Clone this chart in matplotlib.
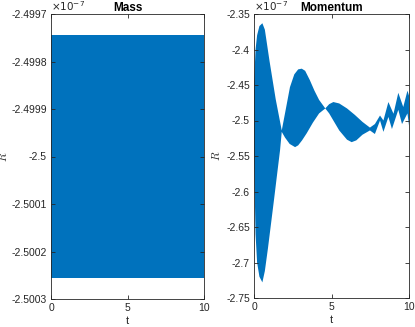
import matplotlib
matplotlib.use('Agg')

import matplotlib.pyplot as plt
from matplotlib.ticker import FuncFormatter

plt.rcParams['font.family'] = ['Liberation Sans', 'DejaVu Sans']
plt.rcParams['mathtext.fontset'] = 'cm'

# values in units of 1e-7
mass_t = [0, 10]
mass_hi = [-2.499745, -2.499745]
mass_lo = [-2.500255, -2.500255]

mom_t_hi = [0, 0.1, 0.2, 0.35, 0.54, 0.7, 1.0, 1.4, 1.79, 2.0, 2.32, 2.6, 2.85,
            3.08, 3.3, 3.6, 3.9, 4.2, 4.6, 4.85, 5.12, 5.5, 6.0, 6.5, 7.0, 7.48,
            7.8, 8.13, 8.35, 8.67, 9.0, 9.31, 9.63, 9.9, 10]
mom_hi = [-2.45, -2.40, -2.38, -2.367, -2.363, -2.372, -2.416, -2.47, -2.514,
          -2.49, -2.453, -2.435, -2.428, -2.427, -2.43, -2.443, -2.458, -2.471,
          -2.483, -2.477, -2.474, -2.476, -2.483, -2.492, -2.502, -2.510,
          -2.505, -2.493, -2.500, -2.474, -2.4905, -2.461, -2.481, -2.458, -2.465]

mom_t_lo = [0, 0.1, 0.2, 0.35, 0.54, 0.7, 0.9, 1.1, 1.3, 1.5, 1.68, 1.79, 2.0,
            2.3, 2.65, 2.85, 3.1, 3.4, 3.8, 4.2, 4.6, 4.85, 5.12, 5.5, 6.0, 6.3,
            6.6, 7.0, 7.48, 7.8, 8.13, 8.35, 8.67, 8.9, 9.31, 9.55, 9.9, 10]
mom_lo = [-2.55, -2.66, -2.70, -2.72, -2.728, -2.712, -2.68, -2.645, -2.61,
          -2.574, -2.542, -2.516, -2.524, -2.533, -2.5375, -2.535, -2.528,
          -2.518, -2.503, -2.49, -2.483, -2.49, -2.50, -2.514, -2.527, -2.5305,
          -2.528, -2.52, -2.514, -2.519, -2.500, -2.516, -2.495, -2.512,
          -2.485, -2.505, -2.49, -2.507]

mass_yticks = [-2.5003, -2.5002, -2.5001, -2.5, -2.4999, -2.4998, -2.4997]
mom_yticks = [-2.75, -2.7, -2.65, -2.6, -2.55, -2.5, -2.45, -2.4, -2.35]
xticks = [0, 5, 10]

BLUE = '#0072BD'
GREY = '#262626'

fig = plt.figure(figsize=(4.15, 3.27), dpi=100)
ax1 = fig.add_axes([51 / 415, 1 - 299 / 327, 153 / 415, 285 / 327])
ax2 = fig.add_axes([254 / 415, 1 - 298 / 327, 155 / 415, 284 / 327])


def style_axes(ax, title, yticks, ylabel_x):
    ax.set_xlim(0, 10)
    ax.set_ylim(yticks[0], yticks[-1])
    ax.set_xticks(xticks)
    ax.set_yticks(yticks)
    ax.yaxis.set_major_formatter(FuncFormatter(lambda v, p: '%g' % round(v, 6)))
    ax.tick_params(direction='in', length=3, width=0.6, colors=GREY,
                   labelsize=7.5, top=True, right=True, pad=3)
    for s in ax.spines.values():
        s.set_color(GREY)
        s.set_linewidth(0.6)
    ax.set_title(title, fontsize=8.5, fontweight='bold', pad=2)
    ax.set_xlabel('t', fontsize=8, color=GREY, labelpad=2)
    ax.set_ylabel('$R$', fontsize=8, color=GREY)
    ax.yaxis.set_label_coords(ylabel_x, 0.5)
    ax.text(0.0, 1.005, r'$\times10^{-7}$', transform=ax.transAxes,
            fontsize=7.5, color=GREY, ha='left', va='bottom',
            math_fontfamily='dejavusans')


ax1.fill_between(mass_t, mass_lo, mass_hi, color=BLUE, linewidth=0)
style_axes(ax1, 'Mass', mass_yticks, -0.272)

# band between the upper and lower envelope of the fast oscillation
ax2.fill(mom_t_hi + mom_t_lo[::-1], mom_hi + mom_lo[::-1],
         color=BLUE, linewidth=0)
style_axes(ax2, 'Momentum', mom_yticks, -0.206)

fig.savefig('out.png', dpi=100)
